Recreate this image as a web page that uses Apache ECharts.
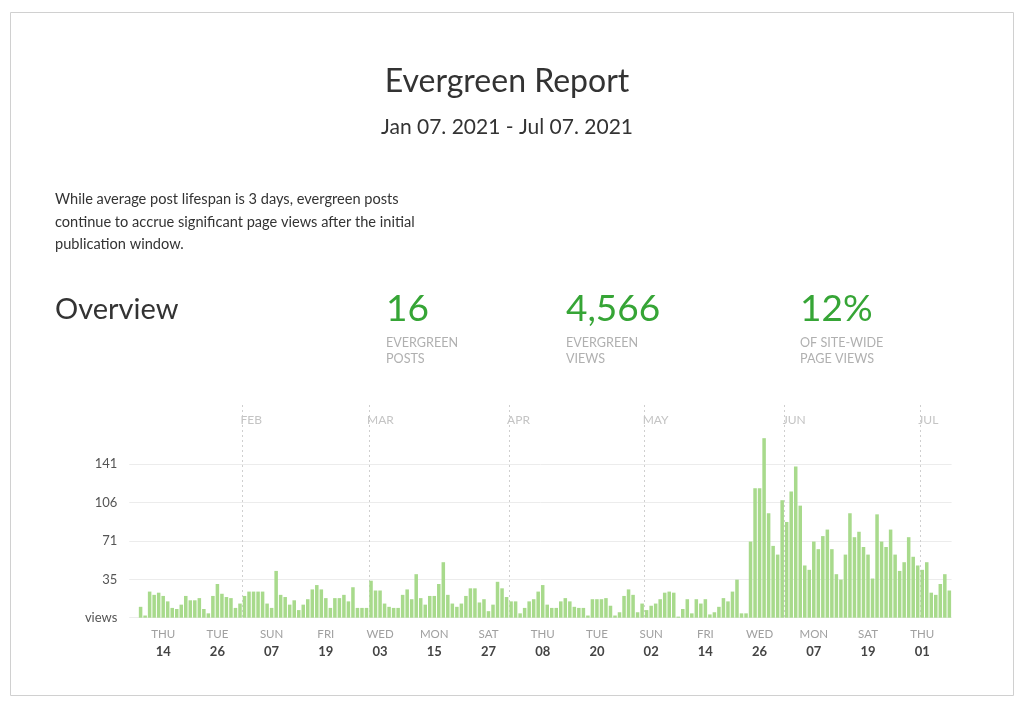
<!DOCTYPE html>
<html><head><meta charset="utf-8">
<script src="https://cdn.jsdelivr.net/npm/echarts@6/dist/echarts.min.js"></script>
<style>html,body{margin:0;padding:0;background:#fff}#c{width:1024px;height:708px}</style>
</head><body><div id="c"></div>
<script>
// ---- data ----
const startDay = [2021, 0, 7];
const endDay = [2021, 6, 7];
const days = [];
for (let t = Date.UTC(startDay[0], startDay[1], startDay[2]); t <= Date.UTC(endDay[0], endDay[1], endDay[2]); t += 86400000) {
  days.push(new Date(t).toISOString().slice(0, 10));
}
const views = [
  0, 0, 10, 2, 24, 21, 23, 20, 15, 9, 8, 12, 20, 16, 16, 18, 8, 4, 20, 31,
  22, 19, 18, 9, 13, 20, 24, 24, 24, 24, 13, 9, 43, 21, 19, 12, 16, 7, 12, 17,
  26, 30, 26, 18, 9, 18, 18, 21, 15, 28, 9, 9, 9, 34, 25, 25, 13, 10, 9, 9,
  21, 26, 17, 40, 18, 12, 20, 20, 31, 51, 21, 13, 10, 13, 20, 27, 27, 14, 17, 6,
  12, 33, 27, 19, 15, 15, 4, 9, 15, 17, 24, 30, 12, 9, 9, 15, 18, 15, 10, 9,
  9, 2, 17, 17, 17, 18, 11, 2, 5, 20, 26, 21, 5, 13, 7, 11, 13, 17, 23, 24,
  23, 1, 8, 17, 4, 17, 13, 17, 3, 5, 10, 18, 15, 24, 35, 4, 4, 70, 119, 119,
  165, 96, 66, 58, 108, 88, 116, 139, 103, 48, 44, 70, 63, 75, 81, 63, 40, 35, 58, 96,
  74, 79, 65, 58, 36, 95, 70, 65, 81, 58, 43, 51, 74, 56, 48, 44, 51, 23, 21, 31,
  40, 25
];
const yTickStep = 35.25;
const yTickLabelMax = 141;
const weekdayNames = ['SUN', 'MON', 'TUE', 'WED', 'THU', 'FRI', 'SAT'];
const monthNames = ['JAN', 'FEB', 'MAR', 'APR', 'MAY', 'JUN', 'JUL'];
const titleText = 'Evergreen Report';
const subtitleText = 'Jan 07. 2021 - Jul 07. 2021';
const introLines = [
  'While average post lifespan is 3 days, evergreen posts',
  'continue to accrue significant page views after the initial',
  'publication window.'
];
const overviewText = 'Overview';
const statValues = ['16', '4,566', '12%'];
const statLabels = [['EVERGREEN', 'POSTS'], ['EVERGREEN', 'VIEWS'], ['OF SITE-WIDE', 'PAGE VIEWS']];

// ---- chart ----
const FONT = 'Lato, "Noto Sans", sans-serif';
const statX = [386, 566, 800];
const graphic = [
  { type: 'rect', shape: { x: 10.5, y: 12.5, width: 1003, height: 683 }, style: { fill: 'none', stroke: '#d0d0d0', lineWidth: 1 }, silent: true },
  { type: 'text', x: 507, y: 82, style: { text: titleText, font: '400 32px ' + FONT, fill: '#333', align: 'center', verticalAlign: 'middle' } },
  { type: 'text', x: 507, y: 127, style: { text: subtitleText, font: '400 21px ' + FONT, fill: '#333', align: 'center', verticalAlign: 'middle' } },
  { type: 'text', x: 55, y: 310, style: { text: overviewText, font: '400 29px ' + FONT, fill: '#333', align: 'left', verticalAlign: 'middle' } }
];
introLines.forEach((line, i) => graphic.push({ type: 'text', x: 55, y: 199 + i * 22.8, style: { text: line, font: '400 14.6px ' + FONT, fill: '#333', align: 'left', verticalAlign: 'middle' } }));
statValues.forEach((v, i) => {
  graphic.push({ type: 'text', x: statX[i], y: 309, style: { text: v, font: '400 37px ' + FONT, fill: '#36a536', align: 'left', verticalAlign: 'middle' } });
  statLabels[i].forEach((l, j) => graphic.push({ type: 'text', x: statX[i], y: 343 + j * 16, style: { text: l, font: '400 12.6px ' + FONT, fill: '#b0b0b0', align: 'left', verticalAlign: 'middle' } }));
});

const isMonthStart = (i, v) => v.slice(8) === '01';
const chart = echarts.init(document.getElementById('c'));
chart.setOption({
  animation: false,
  backgroundColor: '#fff',
  graphic: graphic,
  grid: { left: 129.3, right: 72.4, top: 405, bottom: 90.3, containLabel: false },
  xAxis: [{
    type: 'category', data: days, boundaryGap: true,
    axisLine: { show: false }, axisTick: { show: false },
    splitLine: { show: true, showMaxLine: false, interval: isMonthStart, lineStyle: { color: '#cfcfcf', type: [2, 3], width: 1 } },
    axisLabel: {
      interval: (i) => i >= 7 && (i - 7) % 12 === 0,
      margin: 9,
      formatter: (v) => { const d = new Date(v + 'T00:00:00Z'); return '{w|' + weekdayNames[d.getUTCDay()] + '}\n{d|' + v.slice(8) + '}'; },
      rich: {
        w: { fontFamily: FONT, fontSize: 11.5, color: '#a0a0a0', lineHeight: 16 },
        d: { fontFamily: FONT, fontSize: 13, fontWeight: 'bold', color: '#444', lineHeight: 18 }
      }
    }
  }, {
    type: 'category', data: days, position: 'top', boundaryGap: true,
    axisLine: { show: false }, axisTick: { show: false }, splitLine: { show: false },
    axisLabel: {
      inside: true, interval: isMonthStart, margin: 9, align: 'left',
      formatter: (v) => monthNames[parseInt(v.slice(5, 7), 10) - 1],
      fontFamily: FONT, fontSize: 12, color: '#c4c4c4', padding: [0, 0, 0, -4]
    }
  }],
  yAxis: {
    type: 'value', min: 0, max: 195.5, interval: yTickStep,
    axisLine: { show: false }, axisTick: { show: false },
    splitLine: { show: true, lineStyle: { color: ['#ececec', '#ececec', '#ececec', '#ececec', '#ececec', 'rgba(0,0,0,0)', 'rgba(0,0,0,0)'] } },
    axisLabel: {
      margin: 12, fontFamily: FONT, fontSize: 13, color: '#555',
      formatter: (v) => v === 0 ? 'views' : (v <= yTickLabelMax + 0.01 ? String(Math.round(v)) : '')
    }
  },
  series: [{
    type: 'bar', data: views, xAxisIndex: 0, barCategoryGap: '22%',
    itemStyle: { color: '#a8da8c' }
  }]
});
</script></body></html>
